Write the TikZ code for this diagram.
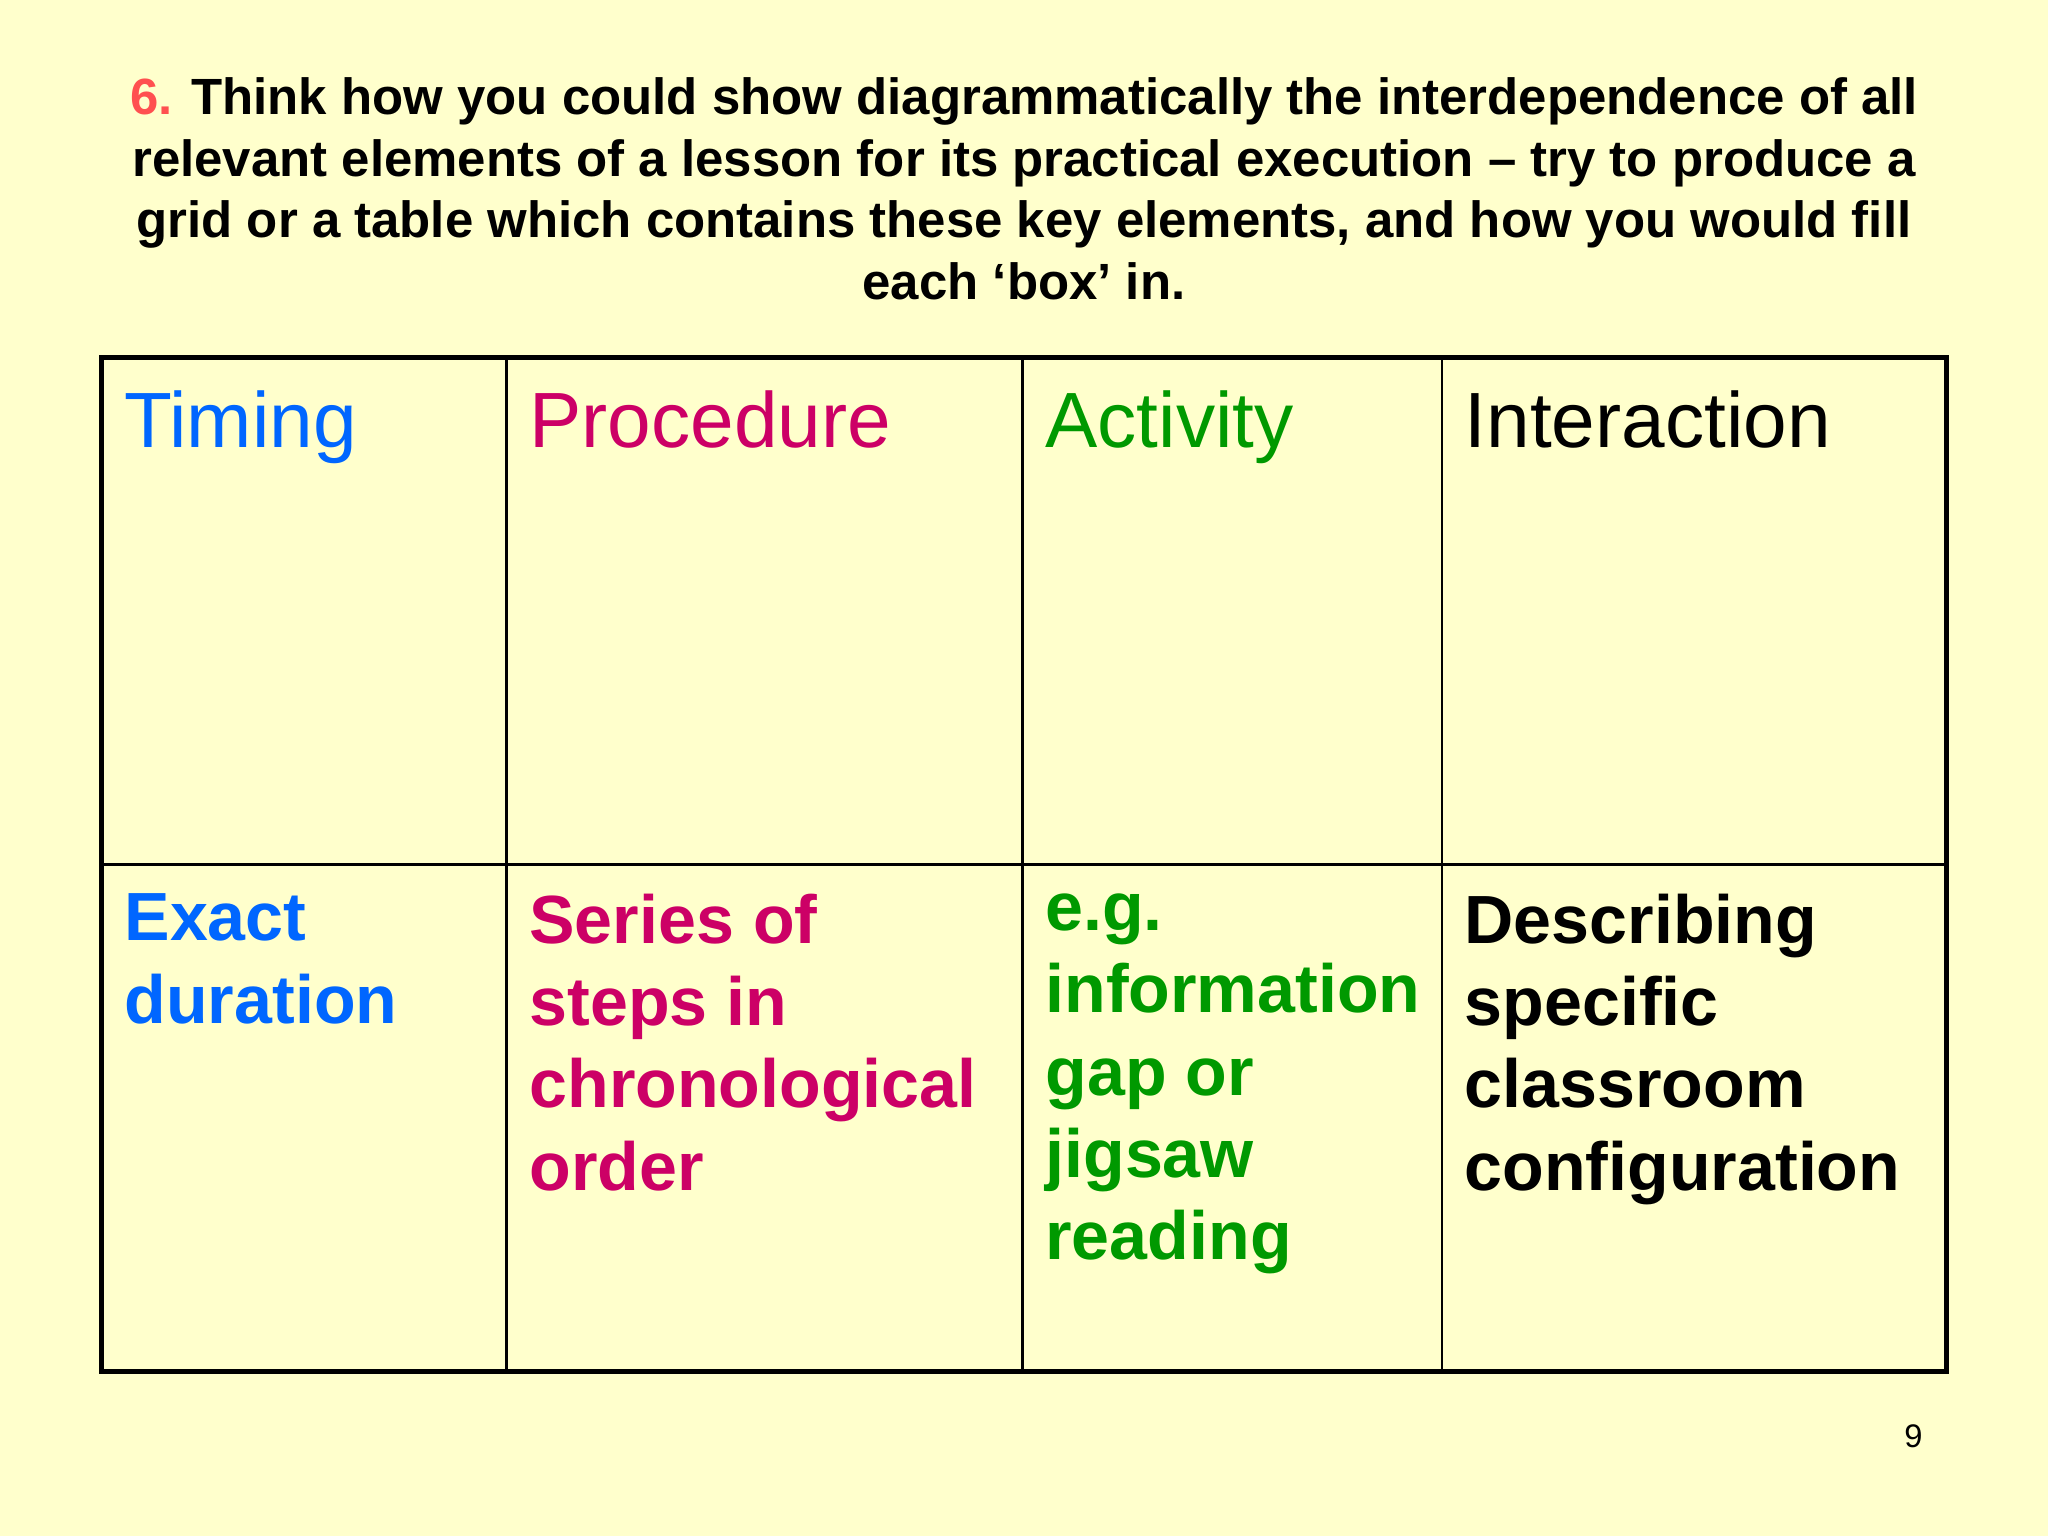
\documentclass[tikz,border=0pt]{standalone}
\usepackage{fontspec}
\setmainfont{Liberation Sans}
\definecolor{bg}{HTML}{FFFFCC}
\definecolor{cblue}{HTML}{0066FF}
\definecolor{cmag}{HTML}{CC0066}
\definecolor{cgreen}{HTML}{009900}
\definecolor{cred}{HTML}{FF5050}
\begin{document}
\begin{tikzpicture}[x=0.5pt,y=-0.5pt,
  title/.style={anchor=base,inner sep=0pt,font=\fontsize{19.5}{23}\selectfont\bfseries},
  head/.style={anchor=base west,inner sep=0pt,font=\fontsize{30}{36}\selectfont},
  body/.style={anchor=north west,inner sep=0pt,align=left,font=\fontsize{26.1}{31.5}\selectfont\bfseries}]
\fill[bg] (0,0) rectangle (1568,1176);
\useasboundingbox (0,0) rectangle (1568,1176);
\node[title] (t1) at (784,88) {\textcolor{cred}{6.} Think how you could show diagrammatically the interdependence of all};
\node[title] (t2) at (784,135) {relevant elements of a lesson for its practical execution – try to produce a};
\node[title] (t3) at (784,182) {grid or a table which contains these key elements, and how you would fill};
\node[title] (t4) at (784,229) {each ‘box’ in.};
\draw[line width=1pt] (388,274) -- (388,1050) (783,274) -- (783,1050) (1104,274) -- (1104,1050) (78,662) -- (1490,662);
\draw[line width=2pt] (78,274) rectangle (1490,1050);
\node[head,text=cblue] (h1) at (95,343) {Timing};
\node[head,text=cmag] (h2) at (405,343) {Procedure};
\node[head,text=cgreen] (h3) at (800,343) {Activity};
\node[head] (h4) at (1121,343) {Interaction};
\node[body,text=cblue] (b1) at (95,684) {Exact\\duration};
\node[body,text=cmag] (b2) at (405,684) {Series of\\steps in\\chronological\\order};
\node[body,text=cgreen] (b3) at (800,684) {e.g.\\information\\gap or\\jigsaw\\reading};
\node[body] (b4) at (1121,684) {Describing\\specific\\classroom\\configuration};
\node[anchor=base,inner sep=0pt,font=\fontsize{12.5}{15}\selectfont] (pg) at (1465,1108) {9};
\end{tikzpicture}
\end{document}
